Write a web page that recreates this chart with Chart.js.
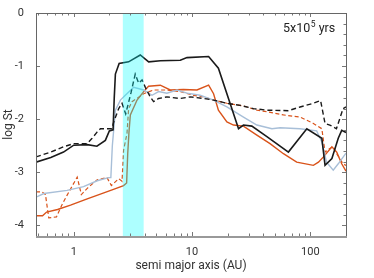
<!DOCTYPE html>
<html>
<head>
<meta charset="utf-8">
<script src="https://cdn.jsdelivr.net/npm/chart.js@4/dist/chart.umd.min.js"></script>
<style>
  html, body { margin: 0; padding: 0; background: #fff; }
  #wrap { width: 374px; height: 278px; }
</style>
</head>
<body>
<div id="wrap"><canvas id="stChart"></canvas></div>
<script>
// semi major axis (AU) / log St
const blackSolidX = [0.48, 0.64, 0.82, 1.0, 1.3, 1.57, 1.85, 2.0, 2.15, 2.2, 2.25, 2.42, 2.91, 3.65, 4.3, 5.4, 7.95, 9.06, 13.8, 16.7, 24.7, 27.2, 32.0, 42.9, 65.2, 93.3, 125, 133, 152, 172, 184, 200];
const blackSolidY = [-2.81, -2.72, -2.62, -2.49, -2.48, -2.51, -2.40, -2.22, -2.20, -1.6, -1.15, -0.95, -0.92, -0.79, -0.92, -0.90, -0.89, -0.84, -0.82, -1.04, -2.18, -2.11, -2.13, -2.33, -2.62, -2.18, -2.36, -2.87, -2.74, -2.36, -2.21, -2.25];

const blackDashX = [0.48, 0.64, 0.82, 1.0, 1.3, 1.43, 1.58, 1.68, 2.1, 2.18, 2.4, 2.56, 2.75, 3.05, 3.31, 3.54, 3.78, 4.03, 4.43, 4.73, 5.21, 6.13, 7.94, 9.67, 12.5, 15.2, 19.7, 25.5, 33.0, 42.9, 65.2, 81.8, 106, 122, 133, 146, 166, 189, 200];
const blackDashY = [-2.71, -2.62, -2.52, -2.46, -2.46, -2.36, -2.24, -2.18, -2.18, -2.05, -1.80, -1.70, -1.90, -1.50, -1.15, -1.32, -1.26, -1.40, -1.58, -1.67, -1.61, -1.58, -1.61, -1.58, -1.61, -1.64, -1.70, -1.74, -1.80, -1.83, -1.84, -1.77, -1.70, -1.65, -2.08, -2.11, -2.18, -1.80, -1.77];

const blueX = [0.48, 0.56, 0.88, 1.21, 1.58, 1.97, 2.06, 2.12, 2.25, 2.48, 2.73, 3.21, 3.9, 4.59, 5.22, 6.13, 7.46, 9.06, 11.7, 15.2, 19.7, 27.2, 35.3, 47.3, 55.5, 81.8, 113, 125, 137, 156, 172, 200];
const blueY = [-3.47, -3.40, -3.34, -3.27, -3.16, -3.10, -3.10, -2.5, -1.83, -1.64, -1.55, -1.40, -1.45, -1.55, -1.48, -1.51, -1.45, -1.51, -1.55, -1.64, -1.77, -1.96, -2.11, -2.18, -2.16, -2.18, -2.22, -2.43, -2.81, -2.96, -2.84, -2.64];

const orangeSolidX = [0.48, 0.545, 0.59, 0.73, 0.94, 1.30, 1.68, 2.11, 2.64, 2.8, 2.86, 2.93, 3.01, 3.43, 3.90, 4.29, 5.39, 6.54, 8.45, 11.0, 13.8, 15.2, 16.7, 19.7, 22.4, 27.2, 35.3, 45.6, 59.2, 76.6, 106, 117, 129, 152, 167, 184, 200];
const orangeSolidY = [-3.82, -3.82, -3.75, -3.70, -3.62, -3.50, -3.41, -3.33, -3.25, -3.20, -2.65, -2.25, -1.92, -1.64, -1.48, -1.38, -1.36, -1.45, -1.44, -1.45, -1.36, -1.52, -1.83, -2.05, -2.11, -2.13, -2.30, -2.46, -2.65, -2.81, -2.87, -2.81, -2.71, -2.52, -2.62, -2.84, -2.98];

const orangeDashX = [0.48, 0.54, 0.577, 0.615, 0.715, 0.80, 0.88, 1.07, 1.16, 1.32, 1.58, 1.91, 2.08, 2.40, 2.56, 2.64, 2.82, 2.91, 3.11, 3.90, 4.73, 6.13, 7.94, 10.3, 12.5, 15.2, 19.7, 27.2, 35.3, 42.9, 59.2, 81.8, 106, 125, 133, 146, 156, 167, 189, 200];
const orangeDashY = [-3.37, -3.37, -3.42, -3.86, -3.84, -3.60, -3.43, -3.09, -3.42, -3.29, -3.14, -3.10, -3.25, -3.12, -3.17, -2.58, -2.27, -1.80, -1.67, -1.52, -1.45, -1.45, -1.48, -1.55, -1.58, -1.64, -1.70, -1.75, -1.83, -1.86, -1.92, -1.96, -2.08, -2.18, -2.62, -2.55, -2.52, -2.65, -2.84, -2.87];

const bandAU = [2.6, 3.9];
const xTickValues = [0.5, 0.6, 0.7, 0.8, 0.9, 1, 2, 3, 4, 5, 6, 7, 8, 9, 10, 20, 30, 40, 50, 60, 70, 80, 90, 100, 200];
const xLabelValues = [1, 10, 100];
const yTickValues = [-4, -3, -2, -1, 0];
const timeLabel = ['5x10', '5', ' yrs'];

const BLACK = '#1a1a1a';
const BLUE = '#a8bfd8';
const ORANGE = '#d9531a';

const toPoints = (xs, ys) => xs.map((x, i) => ({x: x, y: ys[i]}));

const lineSet = (xs, ys, color, width, dash) => ({
  data: toPoints(xs, ys),
  borderColor: color,
  backgroundColor: 'rgba(0,0,0,0)',
  borderWidth: width,
  borderDash: dash,
  pointRadius: 0,
  tension: 0,
  fill: false
});

// cyan band drawn over the lines, inside ticks, frame and the time label
const decorPlugin = {
  id: 'decor',
  afterDatasetsDraw(chart) {
    const {ctx, chartArea: a, scales} = chart;
    const xs = scales.x, ys = scales.y;
    ctx.save();
    const b0 = xs.getPixelForValue(bandAU[0]);
    const b1 = xs.getPixelForValue(bandAU[1]);
    ctx.fillStyle = 'rgba(0,255,255,0.32)';
    ctx.fillRect(b0, a.top, b1 - b0, a.bottom - a.top);

    ctx.strokeStyle = '#777';
    ctx.lineWidth = 1;
    ctx.beginPath();
    xTickValues.forEach(v => {
      const px = Math.round(xs.getPixelForValue(v)) + 0.5;
      const len = xLabelValues.includes(v) ? 4 : 2.5;
      ctx.moveTo(px, a.bottom); ctx.lineTo(px, a.bottom - len);
      ctx.moveTo(px, a.top); ctx.lineTo(px, a.top + len);
    });
    for (let v = -4.2; v <= 0.001; v += 0.2) {
      const py = Math.round(ys.getPixelForValue(v)) + 0.5;
      const major = Math.abs(v - Math.round(v)) < 0.01;
      const len = major ? 4 : 2.5;
      ctx.moveTo(a.right, py); ctx.lineTo(a.right - len, py);
      if (major) { ctx.moveTo(a.left, py); ctx.lineTo(a.left + len, py); }
    }
    ctx.stroke();

    ctx.strokeStyle = '#666';
    ctx.strokeRect(Math.round(a.left) + 0.5, Math.round(a.top) + 0.5,
      Math.round(a.right - a.left), Math.round(a.bottom - a.top));
    ctx.strokeStyle = '#999';
    ctx.lineWidth = 2;
    ctx.beginPath();
    ctx.moveTo(a.left, Math.round(a.bottom) + 1);
    ctx.lineTo(a.right + 1, Math.round(a.bottom) + 1);
    ctx.stroke();

    ctx.fillStyle = '#222';
    ctx.textBaseline = 'alphabetic';
    ctx.textAlign = 'left';
    let tx = 283;
    const ty = 32;
    ctx.font = '12.5px Roboto';
    ctx.fillText(timeLabel[0], tx, ty);
    tx += ctx.measureText(timeLabel[0]).width + 0.5;
    ctx.font = '8.5px Roboto';
    ctx.fillText(timeLabel[1], tx, ty - 5);
    tx += ctx.measureText(timeLabel[1]).width;
    ctx.font = '12.5px Roboto';
    ctx.fillText(timeLabel[2], tx, ty);
    ctx.restore();
  }
};

Chart.defaults.font.family = 'Roboto';
Chart.defaults.color = '#333';

new Chart(document.getElementById('stChart'), {
  type: 'line',
  data: {
    datasets: [
      lineSet(blackSolidX, blackSolidY, BLACK, 1.6, []),
      lineSet(blackDashX, blackDashY, BLACK, 1.4, [5, 3]),
      lineSet(blueX, blueY, BLUE, 1.4, []),
      lineSet(orangeSolidX, orangeSolidY, ORANGE, 1.4, []),
      lineSet(orangeDashX, orangeDashY, ORANGE, 1.2, [4, 2.5])
    ]
  },
  options: {
    responsive: true,
    maintainAspectRatio: false,
    animation: false,
    events: [],
    layout: {padding: {left: 0, right: 28, top: 13, bottom: 0}},
    plugins: {legend: {display: false}, tooltip: {enabled: false}},
    scales: {
      x: {
        type: 'logarithmic',
        min: 0.48,
        max: 200,
        grid: {display: false},
        border: {display: false},
        afterBuildTicks: s => { s.ticks = xTickValues.map(v => ({value: v})); },
        afterFit: s => { s.height = 42; },
        ticks: {
          autoSkip: false,
          maxRotation: 0,
          padding: 2,
          font: {size: 11},
          callback: v => xLabelValues.includes(v) ? String(v) : ''
        },
        title: {display: true, text: 'semi major axis (AU)', font: {size: 12}, padding: {top: 0, bottom: 5}}
      },
      y: {
        type: 'linear',
        min: -4.2,
        max: 0,
        grid: {display: false},
        border: {display: false},
        afterBuildTicks: s => { s.ticks = yTickValues.map(v => ({value: v})); },
        afterFit: s => { s.width = 36; },
        ticks: {padding: 4, font: {size: 11}},
        title: {display: true, text: 'log St', font: {size: 12}, padding: {top: 2, bottom: 0}}
      }
    }
  },
  plugins: [decorPlugin]
});
</script>
</body>
</html>
